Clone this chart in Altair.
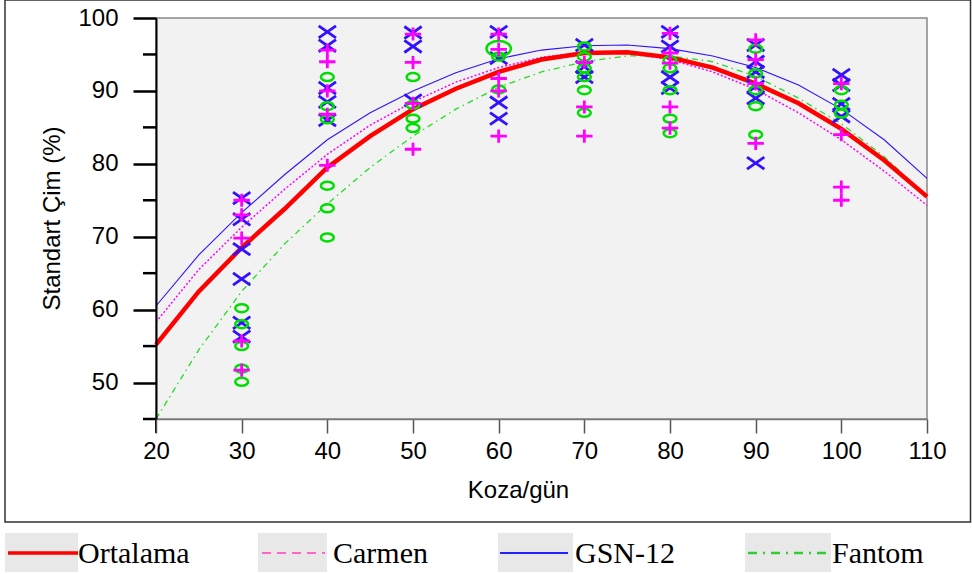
import altair as alt
import pandas as pd

# ---------------- data ----------------
koza_grid = [20, 25, 30, 35, 40, 45, 50, 55, 60, 65, 70, 75, 80, 85, 90, 95, 100, 105, 110]

ortalama_fit = [55.2, 62.5, 68.5, 73.8, 79.5, 83.8, 87.5, 90.3, 92.6, 94.3, 95.2, 95.3, 94.6, 93.2, 91.0, 88.3, 84.8, 80.5, 75.5]
carmen_fit   = [58.3, 65.5, 71.3, 76.5, 81.3, 85.3, 88.5, 91.2, 93.2, 94.6, 95.3, 95.2, 94.3, 92.6, 90.2, 87.0, 83.3, 79.0, 74.3]
gsn_fit      = [60.5, 67.5, 73.3, 78.5, 83.3, 87.0, 90.0, 92.5, 94.4, 95.6, 96.2, 96.3, 95.8, 94.8, 93.2, 90.8, 87.5, 83.3, 78.0]
fantom_fit   = [45.0, 54.5, 62.5, 69.0, 74.5, 79.5, 83.8, 87.5, 90.5, 92.6, 94.0, 94.8, 94.8, 94.0, 92.0, 89.0, 85.5, 81.0, 75.5]

carmen_x = [30, 30, 30, 30, 30, 40, 40, 40, 40, 40, 50, 50, 50, 50, 60, 60, 60, 60, 60,
            70, 70, 70, 80, 80, 80, 80, 80, 90, 90, 90, 90, 100, 100, 100, 100]
carmen_y = [75.0, 73.0, 69.8, 55.7, 51.7, 95.6, 94.0, 90.0, 86.8, 79.8, 97.8, 93.9, 88.3, 82.0,
            97.8, 95.7, 91.7, 90.0, 83.8, 93.9, 87.8, 83.8, 97.9, 95.2, 93.8, 87.8, 84.9,
            97.0, 94.3, 91.0, 82.8, 91.0, 84.0, 76.8, 75.0]

gsn_x = [30, 30, 30, 30, 30, 30, 40, 40, 40, 40, 40, 50, 50, 50, 60, 60, 60, 60,
         70, 70, 70, 80, 80, 80, 80, 90, 90, 90, 90, 90, 90, 100, 100, 100, 100]
gsn_y = [75.3, 72.4, 68.3, 64.2, 58.2, 56.3, 98.1, 96.2, 90.4, 88.5, 86.0, 98.0, 96.1, 88.7,
         98.1, 94.5, 88.4, 86.2, 96.3, 93.3, 91.9, 98.1, 96.1, 91.9, 90.4,
         96.3, 94.0, 92.6, 90.6, 89.0, 80.1, 92.2, 90.8, 88.2, 86.5]

fantom_x = [30, 30, 30, 30, 30, 40, 40, 40, 40, 40, 40, 50, 50, 50, 50, 60, 60,
            70, 70, 70, 70, 70, 70, 80, 80, 80, 80, 80, 90, 90, 90, 90, 90, 100, 100, 100]
fantom_y = [60.2, 58.0, 55.0, 51.9, 50.1, 91.9, 87.9, 86.1, 77.0, 73.9, 69.9, 91.9, 88.1, 86.2, 84.9,
            94.7, 90.2, 96.1, 94.7, 93.1, 91.9, 90.1, 87.0, 94.2, 93.1, 90.1, 86.2, 84.2,
            95.8, 92.4, 90.1, 87.9, 84.0, 90.1, 88.1, 86.9]

fantom_big_x = [60]
fantom_big_y = [95.8]

series_names = ["Ortalama", "Carmen", "GSN-12", "Fantom"]
x_ticks = [20, 30, 40, 50, 60, 70, 80, 90, 100, 110]
y_ticks = [50, 60, 70, 80, 90, 100]
y_minor = [45, 55, 65, 75, 85, 95]

# ---------------- styling ----------------
FONT = "Liberation Sans"
SERIF = "Liberation Serif"
W, H = 771, 401
FS = 24

xscale = alt.Scale(domain=[20, 110], nice=False, zero=False)
yscale = alt.Scale(domain=[45, 100], nice=False, zero=False)

x_axis = alt.Axis(values=x_ticks, format="d", grid=False, tickSize=14, tickColor="#555555",
                  tickWidth=1.5, domainColor="#777777", domainWidth=1.5, labelFontSize=FS,
                  labelFont=FONT, labelColor="black", labelPadding=6, labelFlush=False,
                  labelOverlap=False, title="Koza/gün",
                  titleFont=FONT, titleFontSize=FS, titleFontWeight="normal", titleColor="black",
                  titleX=362, titleY=71, titleBaseline="middle", titleAlign="center", zindex=2)
y_axis = alt.Axis(values=y_ticks, format="d", grid=False, tickSize=23, tickColor="black",
                  tickWidth=2.5, domainColor="black", domainWidth=2, labelFontSize=FS,
                  labelFont=FONT, labelColor="black", labelPadding=15, labelFlush=False,
                  labelOverlap=False, title="Standart Çim (%)",
                  titleFont=FONT, titleFontSize=FS, titleFontWeight="normal", titleColor="black",
                  titleAngle=-90, titleX=-104, titleY=200, titleBaseline="middle", titleAlign="center",
                  zindex=2)


def X(field):
    return alt.X(field, type="quantitative", scale=xscale, axis=x_axis)


def Y(field):
    return alt.Y(field, type="quantitative", scale=yscale, axis=y_axis)


one = pd.DataFrame({"k": [0]})
layers = []

# minor y ticks (uses the same axis definition so the axes merge)
layers.append(alt.Chart(pd.DataFrame({"v": y_minor})).mark_rule(color="black", strokeWidth=2.5).encode(
    y=Y("v"), x=alt.value(-13), x2=alt.value(0)))

fits = {
    "Fantom": (fantom_fit, dict(color="#22dd22", strokeWidth=1.3, strokeDash=[6, 4, 1.5, 4])),
    "Carmen": (carmen_fit, dict(color="#ff00ff", strokeWidth=1.5, strokeDash=[2, 2])),
    "GSN-12": (gsn_fit, dict(color="#3311ff", strokeWidth=1.1)),
    "Ortalama": (ortalama_fit, dict(color="#ff0000", strokeWidth=4.5)),
}
for name, (vals, style) in fits.items():
    df = pd.DataFrame({"x": koza_grid, "y": vals})
    layers.append(alt.Chart(df).mark_line(**style).encode(x=X("x"), y=Y("y")))

PLUS = "M-1,0L1,0M0,-0.8L0,0.8"
CROSS = "M-1,-0.7L1,0.7M-1,0.7L1,-0.7"
OVAL = "M-1,0A1,0.62 0 1,0 1,0A1,0.62 0 1,0 -1,0Z"

points = [
    (gsn_x, gsn_y, dict(shape=CROSS, size=300, color="#3311ff", strokeWidth=2.8)),
    (fantom_x, fantom_y, dict(shape=OVAL, size=165, color="#00dd00", strokeWidth=2.5)),
    (fantom_big_x, fantom_big_y, dict(shape=OVAL, size=600, color="#00dd00", strokeWidth=2.5)),
    (carmen_x, carmen_y, dict(shape=PLUS, size=270, color="#ff00ff", strokeWidth=2.8)),
]
for xs, ys, style in points:
    df = pd.DataFrame({"x": xs, "y": ys})
    layers.append(alt.Chart(df).mark_point(filled=False, opacity=1, **style).encode(x=X("x"), y=Y("y")))

# black tick at x = 20 continuing the y axis
layers.append(alt.Chart(one).mark_rule(color="black", strokeWidth=2).encode(
    x=alt.value(0), y=alt.value(H), y2=alt.value(H + 14)))

# outer frame
layers.append(alt.Chart(one).mark_rect(filled=False, stroke="#333333", strokeWidth=1.5).encode(
    x=alt.value(-151), x2=alt.value(814.5), y=alt.value(-18), y2=alt.value(504)))

# legend below the frame
legend_specs = [
    # box x0, box x1, line x0, line x1, text x, line style
    (-151, -78, -148, -78, -78, dict(color="#ff0000", strokeWidth=3.5)),
    (102, 171, 106, 169, 177, dict(color="#ff66cc", strokeWidth=2, strokeDash=[9, 6])),
    (342, 417, 344, 412, 419, dict(color="#2222ff", strokeWidth=2)),
    (589, 675, 592, 671, 676, dict(color="#33cc33", strokeWidth=2.5, strokeDash=[9, 6, 2, 6])),
]
for name, (bx0, bx1, lx0, lx1, tx, style) in zip(series_names, legend_specs):
    layers.append(alt.Chart(one).mark_rect(color="#e8e8e8").encode(
        x=alt.value(bx0), x2=alt.value(bx1), y=alt.value(515), y2=alt.value(554)))
    layers.append(alt.Chart(one).mark_rule(**style).encode(
        x=alt.value(lx0), x2=alt.value(lx1), y=alt.value(535)))
    layers.append(alt.Chart(one).mark_text(text=name, font=SERIF, fontSize=30, align="left",
                                            baseline="middle", color="black").encode(
        x=alt.value(tx), y=alt.value(536)))

chart = alt.layer(*layers).properties(
    width=W, height=H,
    autosize=alt.AutoSizeParams(type="none"),
    padding={"left": 156, "top": 18, "right": 45, "bottom": 155},
    background="white",
).configure_view(fill="#f2f2f2", stroke="#888888", strokeWidth=1.5)

chart.save("out.html", embed_options={"renderer": "svg", "actions": False})
